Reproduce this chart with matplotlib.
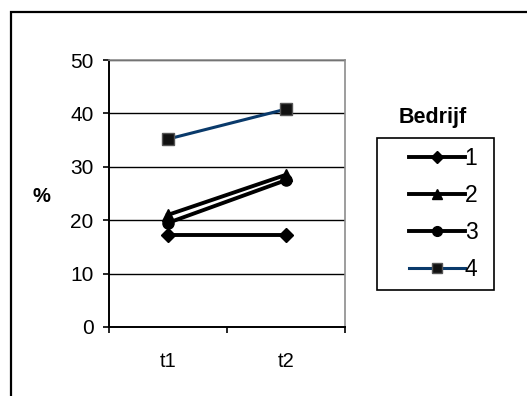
import matplotlib.pyplot as plt
from matplotlib.patches import Rectangle
from matplotlib.lines import Line2D

plt.rcParams['font.family'] = ['Liberation Sans', 'DejaVu Sans']

# data
periods = ['t1', 't2']
bedrijf = ['1', '2', '3', '4']
pct_1 = [17.2, 17.2]
pct_2 = [21.0, 28.5]
pct_3 = [19.5, 27.5]
pct_4 = [35.2, 40.8]

series = [pct_1, pct_2, pct_3, pct_4]
markers = ['D', '^', 'o', 's']
colors = ['black', 'black', 'black', '#0a3a6b']

W, H = 527, 396
fig = plt.figure(figsize=(W / 100, H / 100), dpi=100)

# outer chart border (runs off the right and bottom edges)
fig.patches.append(Rectangle((11 / W, -0.05), 1.1, 1 - 12 / H + 0.05,
                             transform=fig.transFigure, fill=False,
                             edgecolor='black', linewidth=1.6))

ax = fig.add_axes([109 / W, 1 - 327 / H, (345 - 109) / W, (327 - 60) / H])

x = list(range(len(periods)))
for vals, m, c in zip(series, markers, colors):
    if m == 's':
        ax.plot(x, vals, color=c, linewidth=2.2, marker=m, markersize=8,
                markerfacecolor='#111111', markeredgecolor='#555555',
                markeredgewidth=1.0, zorder=4)
    else:
        ms = 7 if m == 'D' else 8
        ax.plot(x, vals, color=c, linewidth=2.8, marker=m, markersize=ms,
                markerfacecolor='black', markeredgecolor='black', zorder=3)

ax.set_xlim(-0.5, len(periods) - 0.5)
ax.set_ylim(0, 50)
ax.set_yticks([0, 10, 20, 30, 40, 50])
ax.set_xticks([-0.5, 0.5, 1.5])
ax.set_xticklabels([])
ax.set_xticks(x, minor=True)
ax.set_xticklabels(periods, minor=True)
ax.tick_params(axis='x', which='minor', length=0, pad=18, labelsize=14.5)
ax.tick_params(axis='x', which='major', length=4.5, width=1.2, direction='out')
ax.tick_params(axis='y', length=4.5, width=1.2, pad=6.5, labelsize=15)

ax.grid(axis='y', color='black', linewidth=1.0)
ax.set_axisbelow(True)
for side in ['top', 'right']:
    ax.spines[side].set_color('#8c8c8c')
    ax.spines[side].set_linewidth(1.2)
for side in ['left', 'bottom']:
    ax.spines[side].set_linewidth(1.4)

fig.text(41 / W, 1 - 197 / H, '%', fontsize=14.5, fontweight='bold',
         ha='center', va='center')

# legend box and title
fig.patches.append(Rectangle((377 / W, 1 - 290 / H), (494 - 377) / W, (290 - 138) / H,
                             transform=fig.transFigure, fill=False,
                             edgecolor='black', linewidth=1.2))
fig.text(433 / W, 1 - 118 / H, 'Bedrijf', fontsize=15.5, fontweight='bold',
         ha='center', va='center')

leg_handles = []
for m, c in zip(markers, colors):
    if m == 's':
        leg_handles.append(Line2D([], [], color=c, linewidth=2.2, marker=m, markersize=7,
                                  markerfacecolor='#111111', markeredgecolor='#555555'))
    else:
        leg_handles.append(Line2D([], [], color=c, linewidth=2.8, marker=m,
                                  markersize=6 if m == 'D' else 7,
                                  markerfacecolor='black', markeredgecolor='black'))
fig.legend(leg_handles, bedrijf, loc='upper left', bbox_to_anchor=(404 / W, 1 - 142 / H),
           frameon=False, fontsize=16.5, handlelength=2.45, handletextpad=0.0,
           labelspacing=0.62, borderpad=0.2, borderaxespad=0)

fig.savefig('out.png', dpi=100)
